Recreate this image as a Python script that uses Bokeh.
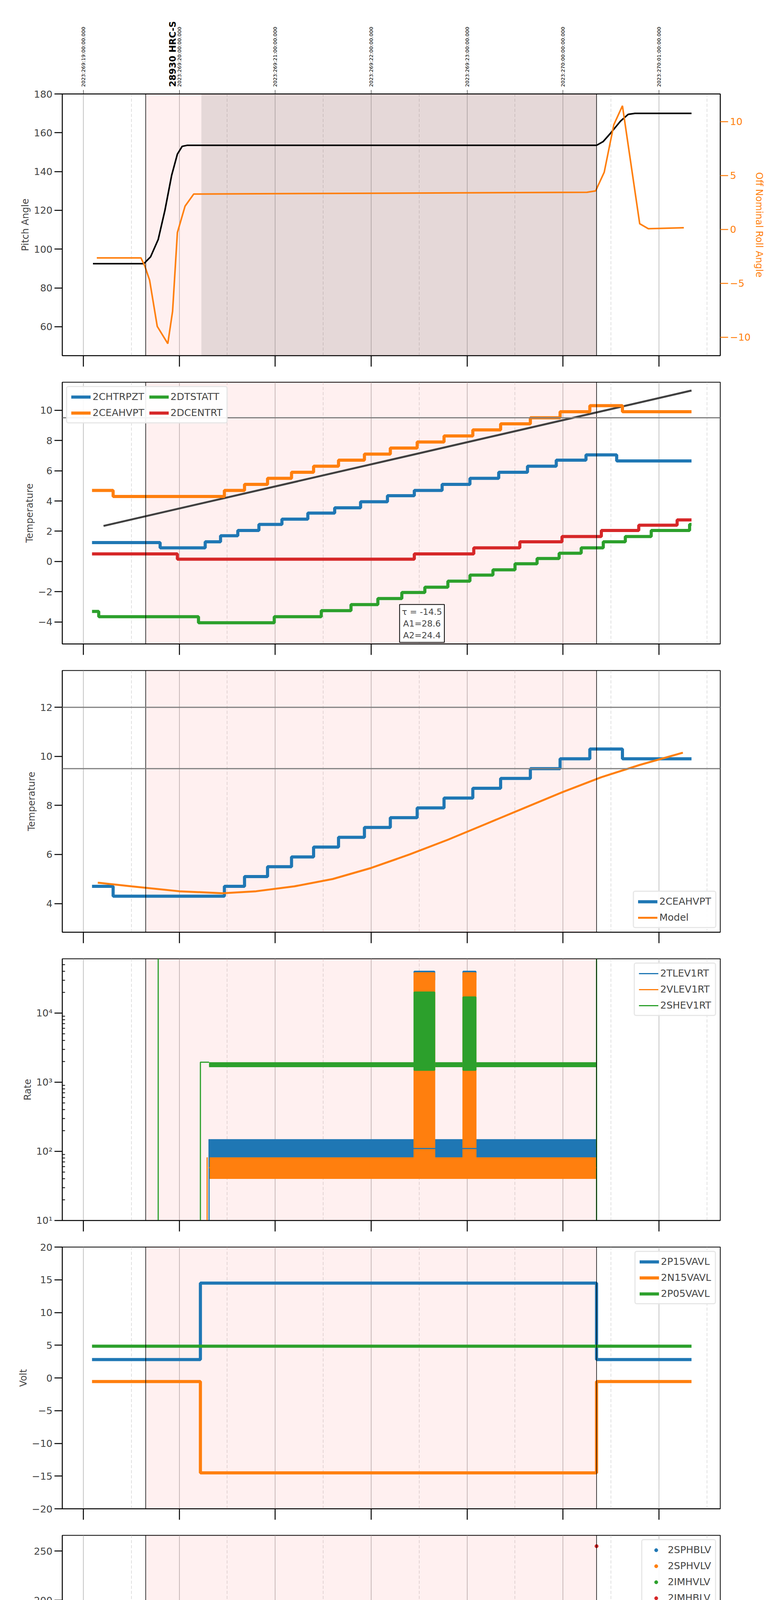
from math import pi
from bokeh.plotting import figure
from bokeh.models import (Range1d, LinearAxis, FixedTicker, BoxAnnotation, Span, Label,
                          NumeralTickFormatter)
from bokeh.core.properties import value
from bokeh.layouts import column
from bokeh.embed import file_html
from bokeh.resources import INLINE

BLUE, ORANGE, GREEN, RED = "#1f77b4", "#ff7f0e", "#2ca02c", "#d62728"
FONT = "DejaVu Sans"
TICK_SIZE = "25px"
LABEL_SIZE = "24px"

# ---- time axis (hours, 2023-09-26 local) ----
hours = [15, 16, 17, 18, 19, 20, 21]
halves = [14.5, 15.5, 16.5, 17.5, 18.5, 19.5, 20.5, 21.5]
utc_labels = ["2023:269:19:00:00.000", "2023:269:20:00:00.000", "2023:269:21:00:00.000",
              "2023:269:22:00:00.000", "2023:269:23:00:00.000", "2023:270:00:00:00.000",
              "2023:270:01:00:00.000"]
obs_start, obs_stop, dwell_start = 15.65, 20.35, 16.23
obsid_t = 15.93
obsid_label = "28930 HRC-S"
spike_t0 = [18.45, 18.96]
spike_t1 = [18.66, 19.09]

# ---- panel 1: pitch / roll ----
pitch_t = [15.10, 15.63, 15.70, 15.78, 15.85, 15.92, 15.98, 16.03, 16.08, 20.35, 20.42, 20.50, 20.60, 20.68, 20.75, 21.34]
pitch_v = [92.5, 92.5, 96, 105, 120, 138, 149, 153, 153.5, 153.5, 155.5, 160, 166, 169.5, 170, 170]
roll_t = [15.14, 15.60, 15.64, 15.69, 15.77, 15.88, 15.93, 15.98, 16.06, 16.15, 20.25, 20.34, 20.43, 20.53, 20.62, 20.80, 20.89, 21.26]
roll_v = [-2.65, -2.65, -3.4, -4.7, -9.0, -10.6, -7.6, -0.3, 2.15, 3.27, 3.44, 3.56, 5.3, 9.7, 11.46, 0.52, 0.06, 0.15]

# ---- panel 2: temperatures ----
ceahvpt_t = [15.09, 15.31, 16.47, 16.68, 16.92, 17.17, 17.40, 17.66, 17.93, 18.20, 18.48, 18.76, 19.06, 19.35, 19.66, 19.97, 20.28, 20.62, 21.34]
ceahvpt_v = [4.7, 4.3, 4.7, 5.1, 5.5, 5.9, 6.3, 6.7, 7.1, 7.5, 7.9, 8.3, 8.7, 9.1, 9.5, 9.9, 10.3, 9.9, 9.9]
chtrpzt_t = [15.09, 15.80, 16.27, 16.43, 16.61, 16.83, 17.07, 17.34, 17.62, 17.89, 18.17, 18.45, 18.74, 19.03, 19.33, 19.63, 19.93, 20.24, 20.56, 21.34]
chtrpzt_v = [1.25, 0.9, 1.3, 1.7, 2.05, 2.45, 2.8, 3.2, 3.55, 3.95, 4.35, 4.7, 5.1, 5.5, 5.9, 6.3, 6.7, 7.05, 6.65, 6.65]
dcentrt_t = [15.09, 15.98, 18.45, 19.07, 19.55, 19.99, 20.40, 20.79, 21.19, 21.34]
dcentrt_v = [0.5, 0.15, 0.5, 0.9, 1.3, 1.65, 2.05, 2.4, 2.75, 2.75]
dtstatt_t = [15.09, 15.16, 16.20, 16.99, 17.48, 17.79, 18.07, 18.32, 18.56, 18.80, 19.03, 19.27, 19.50, 19.73, 19.96, 20.19, 20.42, 20.65, 20.92, 21.32, 21.34]
dtstatt_v = [-3.3, -3.65, -4.05, -3.65, -3.25, -2.85, -2.45, -2.05, -1.7, -1.3, -0.9, -0.55, -0.15, 0.2, 0.55, 0.9, 1.3, 1.65, 2.05, 2.45, 2.45]
fit_t = [15.21, 21.34]
fit_v = [2.35, 11.3]
fit_text = "τ = -14.5\nA1=28.6\nA2=24.4"

# ---- panel 3: model ----
model_t = [15.15, 15.5, 16.0, 16.45, 16.8, 17.2, 17.6, 18.0, 18.4, 18.8, 19.2, 19.6, 20.0, 20.4, 20.8, 21.25]
model_v = [4.85, 4.7, 4.5, 4.42, 4.5, 4.7, 5.0, 5.45, 6.0, 6.6, 7.25, 7.9, 8.55, 9.15, 9.65, 10.15]

# ---- panel 4: rates (envelopes of noisy data) ----
rate_t = [16.31, 20.35]
tlev_lo, tlev_hi = [80, 80], [150, 150]
vlev_lo, vlev_hi = [40, 40], [82, 82]
shev_lo, shev_hi = [1650, 1650], [1950, 1950]
tlev_spike_lo, tlev_spike_hi = [30000, 30000], [40000, 40000]
vlev_spike_lo, vlev_spike_hi = [60, 60], [38000, 38000]
shev_spike_lo, shev_spike_hi = [1500, 1500], [20000, 17000]
shev_jump_t = [15.78, 20.35]

# ---- panel 5: voltages ----
volt_t = [15.09, 16.22, 20.35, 21.34]
p15_v = [2.8, 14.5, 2.8, 2.8]
n15_v = [-0.55, -14.5, -0.55, -0.55]
p05_v = [4.85, 4.85, 4.85, 4.85]

# ---- panel 6: HV monitor ----
sphblv_t = [16.24, 16.25, 16.255, 16.26, 16.27, 16.28, 16.29, 16.30]
sphblv_v = [118, 105, 102, 97, 92, 87, 82, 78]
sphvlv_t = [16.24, 16.245, 16.25, 16.255, 16.265, 16.27, 16.28, 16.29, 16.30, 18.48, 18.52, 18.55, 18.98, 19.07]
sphvlv_v = [127, 125, 98, 96, 91, 86, 80, 75, 71, 127, 127, 127, 127, 127]
imhvlv_t = [14.0]   # off-scale, only in the legend
imhvlv_v = [0]
imhblv_t = [20.35]
imhblv_v = [255]
hv_band_t = [16.30, 20.35]
sphblv_band = [77.5, 77.5]
sphvlv_band = [70.5, 70.5]

# ---- panel 7: detector temps ----
sphvatm_t = [16.22, 16.37, 16.46, 16.54, 16.61, 16.69, 16.78, 16.87, 16.97, 17.08, 17.21, 17.34, 17.48, 17.64, 17.80, 17.99, 18.19, 18.39, 18.61, 18.85, 19.08, 19.33, 19.60, 19.85, 20.12, 20.33]
sphvatm_v = [13.85, 14.15, 14.45, 14.75, 15.0, 15.3, 15.6, 15.85, 16.1, 16.4, 16.7, 17.0, 17.25, 17.55, 17.85, 18.15, 18.4, 18.7, 18.95, 19.25, 19.55, 19.9, 20.2, 20.5, 20.8, 20.8]
imhvatm_t = [16.22, 16.22, 16.88, 17.15, 17.39, 17.62, 17.86, 18.09, 18.33, 18.57, 18.82, 19.06, 19.29, 19.55, 19.81, 20.07, 20.32, 20.35]
imhvatm_v = [0, 13.35, 13.6, 13.9, 14.2, 14.45, 14.75, 15.0, 15.3, 15.55, 15.85, 16.1, 16.4, 16.65, 16.95, 17.25, 21.1, 0]
spinatm_t = [16.23, 17.28, 18.09, 18.76, 19.34, 19.91, 20.32]
spinatm_v = [2.35, 2.8, 3.25, 3.7, 4.15, 4.6, 4.6]
iminatm_t = [16.23, 18.52, 19.59, 20.32, 20.33]
iminatm_v = [1.5, 1.95, 2.35, 2.8, 2.8]
det_spike = {"2SPINATM": ([0, 0], [3.3, 3.7]), "2SPHVATM": ([10.8, 11.3], [18.8, 19.3]),
             "2IMINATM": ([1.5, 1.8], [3.35, 3.8]), "2IMHVATM": ([15.3, 15.9], [18.8, 19.3])}

# ---- panel 8: FEA temps ----
fhtrmzt_pre_t = [15.09, 15.37, 15.37]
fhtrmzt_pre_v = [-7.2, -7.2, -8]
fhtrmzt_t = [16.32, 16.50, 16.63, 16.74, 16.85, 16.97, 17.09, 17.20, 17.33, 17.46, 17.58, 17.71, 17.84, 17.98, 18.11, 18.25, 18.39, 18.55, 18.67, 18.83, 18.98, 19.11, 19.29, 19.45, 19.62, 19.80, 19.96, 20.14, 20.31, 20.80, 21.16, 21.34]
fhtrmzt_v = [-7.2, -6.8, -6.4, -6.0, -5.6, -5.2, -4.8, -4.4, -4.0, -3.6, -3.25, -2.9, -2.5, -2.1, -1.75, -1.35, -1.0, -0.62, -0.25, 0.13, 0.53, 0.9, 1.28, 1.66, 2.03, 2.41, 2.79, 3.16, 3.55, 3.16, 2.79, 2.79]
fradpyt_t = [16.83, 16.83, 16.96, 17.07, 17.20, 17.34, 17.48, 17.61, 17.74, 17.88, 18.02, 18.17, 18.32, 18.66, 18.79, 18.96, 19.11, 19.29, 19.46, 19.64, 19.81, 20.00, 20.18, 20.69, 21.02, 21.34]
fradpyt_v = [-8, -7.2, -6.8, -6.4, -6.0, -5.6, -5.2, -4.8, -4.4, -4.0, -3.6, -3.25, -2.9, -2.1, -1.75, -1.35, -1.0, -0.6, -0.25, 0.15, 0.55, 0.9, 1.3, 0.9, 0.5, 0.5]
fepratm_t = [16.23, 16.27, 16.36, 16.47, 16.53, 16.58, 16.69, 16.80, 16.92, 17.01, 17.10, 17.19, 17.29, 17.40, 17.49, 17.60, 17.70, 17.81, 17.92, 18.01, 18.12, 18.24, 18.34, 18.66, 18.85, 19.14, 19.27, 19.43, 19.59, 19.80, 20.01, 20.25]
fepratm_v = [-6.2, -5.8, -5.4, -5.05, -4.65, -4.3, -3.95, -3.6, -3.25, -2.9, -2.6, -2.25, -1.9, -1.55, -1.25, -0.9, -0.6, -0.25, 0.1, 0.45, 0.8, 1.15, 1.5, 2.38, 2.81, 3.25, 3.7, 4.1, 4.6, 5.05, 5.45, 5.85]
fe00atm_t = [16.22, 16.22, 16.32, 16.43, 16.49, 16.54, 16.65, 16.76, 16.88, 16.97, 17.06, 17.15, 17.25, 17.36, 17.45, 17.56, 17.66, 17.77, 17.88, 17.97, 18.08, 18.20, 18.30, 18.44, 18.66, 18.76, 18.89, 19.02, 19.14, 19.27, 19.39, 19.53, 19.66, 19.79, 19.92, 20.07, 20.35]
fe00atm_v = [-8, -5.27, -4.87, -4.52, -4.17, -3.82, -3.47, -3.12, -2.77, -2.47, -2.12, -1.77, -1.42, -1.12, -0.77, -0.47, 0.18, 0.48, 0.81, 1.13, 1.41, 1.73, 2.03, 2.33, 2.63, 2.93, 3.25, 3.55, 3.85, 4.15, 4.43, 4.73, 5.03, 5.31, 5.58, 5.85, 5.85]
fea_spike = {"2FEPRATM": ([-4.7, -4.7], [2.0, 3.3]), "2FE00ATM": ([2.0, 3.2], [6, 6])}

X_RANGE = Range1d(14.78, 21.64)


def blank_labels(axis, ticks):
    axis.major_label_overrides = {t: "" for t in ticks}


def make_fig(height, top, bottom, ylabel, y_range, yticks, y_type="linear"):
    p = figure(width=1984, height=height, x_range=X_RANGE, y_range=y_range, y_axis_type=y_type,
               output_backend="svg", toolbar_location=None,
               min_border_left=159, min_border_right=140, min_border_top=top, min_border_bottom=bottom)
    p.outline_line_color = "black"
    p.outline_line_width = 2
    p.ygrid.grid_line_color = None
    p.xgrid.ticker = FixedTicker(ticks=hours, minor_ticks=halves)
    p.xgrid.grid_line_color = "#b0b0b0"
    p.xgrid.grid_line_width = 1.5
    p.xgrid.minor_grid_line_color = "#c4c4c4"
    p.xgrid.minor_grid_line_dash = "8 5"
    p.xaxis.ticker = FixedTicker(ticks=hours)
    blank_labels(p.xaxis[0], hours)
    p.xaxis.major_label_standoff = 0
    p.xaxis.major_tick_out = 28
    p.xaxis.major_tick_in = 0
    p.xaxis.major_tick_line_width = 2.5
    p.xaxis.minor_tick_line_color = None
    p.xaxis.axis_line_width = 2
    p.yaxis.axis_label = ylabel
    p.yaxis.axis_label_text_font = FONT
    p.yaxis.axis_label_text_font_style = "normal"
    p.yaxis.axis_label_text_font_size = LABEL_SIZE
    p.yaxis.major_label_text_font = FONT
    p.yaxis.major_label_text_font_size = TICK_SIZE
    p.yaxis.major_tick_out = 20
    p.yaxis.major_tick_in = 0
    p.yaxis.major_tick_line_width = 2.5
    p.yaxis.axis_line_width = 2
    if y_type == "linear":
        p.yaxis.ticker = FixedTicker(ticks=yticks)
        p.yaxis.minor_tick_line_color = None
    else:
        p.yaxis.minor_tick_out = 0
        p.yaxis.minor_tick_in = 7
        p.yaxis.minor_tick_line_width = 2
    p.add_layout(BoxAnnotation(left=obs_start, right=obs_stop, fill_color="red", fill_alpha=0.06,
                               line_color=None, level="underlay"))
    for t in (obs_start, obs_stop):
        p.add_layout(Span(location=t, dimension="height", line_color="black", line_width=1.5))
    return p


def style_legend(p, location, ncols=1):
    lg = p.legend[0]
    lg.location = location
    lg.ncols = ncols
    lg.label_text_font = FONT
    lg.label_text_font_size = TICK_SIZE
    lg.glyph_width = 50
    lg.glyph_height = 22
    lg.spacing = 12
    lg.padding = 10
    lg.border_line_color = "#d0d0d0"
    lg.border_line_width = 3
    lg.border_radius = 6
    lg.background_fill_alpha = 0.9


def spikes(p, lo, hi, color):
    p.quad(left=spike_t0, right=spike_t1, bottom=lo, top=hi, color=color, line_color=color, line_width=4)


# Header strip with UTC times and the obsid
p0 = figure(width=1984, height=228, x_range=X_RANGE, y_range=Range1d(0, 1),
            output_backend="svg", toolbar_location=None, min_border_left=159, min_border_right=140,
            min_border_top=0, min_border_bottom=0)
p0.axis.visible = False
p0.grid.visible = False
p0.outline_line_color = None
p0.text(x=hours, y=[0.0] * len(hours), text=utc_labels, angle=pi / 2, text_align="left",
        text_baseline="middle", text_font=value(FONT), text_font_size="13px", y_offset=-6)
p0.text(x=[obsid_t], y=[0.0], text=[obsid_label], angle=pi / 2, text_align="left",
        text_baseline="middle", text_font=value(FONT), text_font_style="bold",
        text_font_size="23px", y_offset=-6)

# Panel 1
p1 = make_fig(717, 12, 35, "Pitch Angle", Range1d(45.1, 180), [60, 80, 100, 120, 140, 160, 180])
p1.add_layout(BoxAnnotation(left=dwell_start, right=obs_stop, fill_color="#6e6e6e", fill_alpha=0.18,
                            line_color=None, level="underlay"))
p1.extra_y_ranges = {"roll": Range1d(-11.72, 12.56)}
ax_r = LinearAxis(y_range_name="roll", axis_label="Off Nominal Roll Angle",
                  ticker=FixedTicker(ticks=[-10, -5, 0, 5, 10]))
ax_r.axis_label_text_color = ORANGE
ax_r.axis_label_text_font = FONT
ax_r.axis_label_text_font_style = "normal"
ax_r.axis_label_text_font_size = LABEL_SIZE
ax_r.major_label_text_color = ORANGE
ax_r.major_label_text_font = FONT
ax_r.major_label_text_font_size = TICK_SIZE
ax_r.major_tick_line_color = ORANGE
ax_r.major_tick_out = 20
ax_r.major_tick_in = 0
ax_r.major_tick_line_width = 2.5
ax_r.minor_tick_line_color = None
ax_r.axis_line_width = 2
p1.add_layout(ax_r, "right")
ax_top = LinearAxis(ticker=FixedTicker(ticks=hours))
blank_labels(ax_top, hours)
ax_top.major_label_standoff = 0
ax_top.major_tick_out = 10
ax_top.major_tick_in = 0
ax_top.minor_tick_line_color = None
ax_top.axis_line_width = 2
p1.add_layout(ax_top, "above")
p1.line(pitch_t, pitch_v, color="black", line_width=4)
p1.line(roll_t, roll_v, color=ORANGE, line_width=4, y_range_name="roll")

# Panel 2
p2 = make_fig(738, 33, 35, "Temperature", Range1d(-5.45, 11.85), [-4, -2, 0, 2, 4, 6, 8, 10])
p2.add_layout(Span(location=9.5, dimension="width", line_color="#808080", line_width=3))
p2.line(fit_t, fit_v, color="#404040", line_width=5)
p2.step(chtrpzt_t, chtrpzt_v, mode="after", color=BLUE, line_width=8, legend_label="2CHTRPZT")
p2.step(ceahvpt_t, ceahvpt_v, mode="after", color=ORANGE, line_width=8, legend_label="2CEAHVPT")
p2.step(dtstatt_t, dtstatt_v, mode="after", color=GREEN, line_width=8, legend_label="2DTSTATT")
p2.step(dcentrt_t, dcentrt_v, mode="after", color=RED, line_width=8, legend_label="2DCENTRT")
style_legend(p2, "top_left", ncols=2)
p2.add_layout(Label(x=18.53, y=-5.45, y_offset=4, text=fit_text, text_align="center",
                    text_baseline="bottom", text_font=FONT, text_font_size="22px",
                    background_fill_color="white", border_line_color="black", border_line_width=2,
                    padding=6))

# Panel 3
p3 = make_fig(738, 33, 35, "Temperature", Range1d(2.83, 13.5), [4, 6, 8, 10, 12])
for lvl in (9.5, 12):
    p3.add_layout(Span(location=lvl, dimension="width", line_color="#808080", line_width=3))
p3.step(ceahvpt_t, ceahvpt_v, mode="after", color=BLUE, line_width=8, legend_label="2CEAHVPT")
p3.line(model_t, model_v, color=ORANGE, line_width=5, legend_label="Model")
style_legend(p3, "bottom_right")

# Panel 4
p4 = make_fig(738, 33, 35, "Rate", Range1d(10, 61000), None, y_type="log")
p4.yaxis.ticker = FixedTicker(ticks=[10, 100, 1000, 10000],
                              minor_ticks=[20, 30, 40, 50, 60, 70, 80, 90, 200, 300, 400, 500, 600, 700, 800, 900,
                                           2000, 3000, 4000, 5000, 6000, 7000, 8000, 9000, 20000, 30000, 40000, 50000])
p4.yaxis.major_label_overrides = {10: "10¹", 100: "10²", 1000: "10³", 10000: "10⁴"}
p4.varea(rate_t, tlev_lo, tlev_hi, color=BLUE)
p4.varea(rate_t, vlev_lo, vlev_hi, color=ORANGE)
p4.varea(rate_t, shev_lo, shev_hi, color=GREEN)
spikes(p4, tlev_spike_lo, tlev_spike_hi, BLUE)
spikes(p4, vlev_spike_lo, vlev_spike_hi, ORANGE)
spikes(p4, shev_spike_lo, shev_spike_hi, GREEN)
p4.line([rate_t[0], rate_t[0]], [10, tlev_hi[0]], color=BLUE, line_width=3)
p4.line([rate_t[0] - 0.02, rate_t[0] - 0.02], [10, vlev_hi[0]], color=ORANGE, line_width=3)
p4.line([16.22, 16.22, rate_t[0]], [10, shev_hi[0], shev_hi[0]], color=GREEN, line_width=3)
for t in shev_jump_t:
    p4.line([t, t], [10, 61000], color=GREEN, line_width=3)
p4.line(rate_t, [110, 110], color=BLUE, line_width=3, legend_label="2TLEV1RT")
p4.line(rate_t, [58, 58], color=ORANGE, line_width=3, legend_label="2VLEV1RT")
p4.line(rate_t, [1780, 1780], color=GREEN, line_width=3, legend_label="2SHEV1RT")
style_legend(p4, "top_right")

# Panel 5
p5 = make_fig(738, 33, 35, "Volt", Range1d(-20, 20), [-20, -15, -10, -5, 0, 5, 10, 15, 20])
p5.step(volt_t, p15_v, mode="after", color=BLUE, line_width=8, legend_label="2P15VAVL")
p5.step(volt_t, n15_v, mode="after", color=ORANGE, line_width=8, legend_label="2N15VAVL")
p5.step(volt_t, p05_v, mode="after", color=GREEN, line_width=8, legend_label="2P05VAVL")
style_legend(p5, "top_right")

# Panel 6
p6 = make_fig(738, 33, 35, "HV Monitor", Range1d(0, 266), [0, 50, 100, 150, 200, 250])
p6.line(hv_band_t, sphblv_band, color=BLUE, line_width=13)
p6.line(hv_band_t, sphvlv_band, color=ORANGE, line_width=11)
p6.scatter(sphblv_t, sphblv_v, size=9, color=BLUE, legend_label="2SPHBLV")
p6.scatter(sphvlv_t, sphvlv_v, size=9, color=ORANGE, legend_label="2SPHVLV")
p6.scatter(imhvlv_t, imhvlv_v, size=9, color=GREEN, legend_label="2IMHVLV")
p6.scatter(imhblv_t, imhblv_v, size=9, color=RED, legend_label="2IMHBLV")
style_legend(p6, "top_right")

# Panel 7
p7 = make_fig(738, 33, 35, "Detector Temp", Range1d(0, 21.07), [0, 2.5, 5, 7.5, 10, 12.5, 15, 17.5, 20])
p7.yaxis.formatter = NumeralTickFormatter(format="0.0")
p7.step(spinatm_t, spinatm_v, mode="after", color=BLUE, line_width=8, legend_label="2SPINATM")
spikes(p7, *det_spike["2SPINATM"], BLUE)
p7.step(sphvatm_t, sphvatm_v, mode="after", color=ORANGE, line_width=8, legend_label="2SPHVATM")
spikes(p7, *det_spike["2SPHVATM"], ORANGE)
p7.line([18.53, 18.53], [0, 11], color=ORANGE, line_width=3)
p7.step(iminatm_t, iminatm_v, mode="after", color=GREEN, line_width=8, legend_label="2IMINATM")
spikes(p7, *det_spike["2IMINATM"], GREEN)
p7.step(imhvatm_t, imhvatm_v, mode="after", color=RED, line_width=7, legend_label="2IMHVATM")
spikes(p7, *det_spike["2IMHVATM"], RED)
p7.line([18.53, 18.53], [0, 15.3], color=RED, line_width=3)
style_legend(p7, "top_right")

# Panel 8
p8 = make_fig(823, 33, 120, "FEA Temp", Range1d(-7.5, 5.63), [-6, -4, -2, 0, 2, 4])
p8.line(fhtrmzt_pre_t, fhtrmzt_pre_v, color=BLUE, line_width=8)
p8.step(fhtrmzt_t, fhtrmzt_v, mode="after", color=BLUE, line_width=8, legend_label="2FHTRMZT")
p8.step(fradpyt_t, fradpyt_v, mode="after", color=ORANGE, line_width=8, legend_label="2FRADPYT")
p8.step(fepratm_t, fepratm_v, mode="after", color=GREEN, line_width=8, legend_label="2FEPRATM")
spikes(p8, *fea_spike["2FEPRATM"], GREEN)
p8.step(fe00atm_t, fe00atm_v, mode="after", color=RED, line_width=8, legend_label="2FE00ATM")
spikes(p8, *fea_spike["2FE00ATM"], RED)
for t in (18.53, obs_stop):
    p8.line([t, t], [-7.5, 5.63], color=RED, line_width=6)
style_legend(p8, "bottom_right")
p8.xaxis.ticker = FixedTicker(ticks=hours + halves)
p8.xaxis.major_label_overrides = {**{h: " " for h in hours}, **{h: "30" for h in halves}}
p8.xaxis.major_label_text_font = FONT
p8.xaxis.major_label_text_font_size = "15px"
p8.xaxis.major_label_standoff = 6
p8.xaxis.major_tick_out = 14
ax_h = LinearAxis(ticker=FixedTicker(ticks=hours),
                  major_label_overrides={h: f"{h}h" for h in hours},
                  axis_label="2023-09-26 (269)")
ax_h.major_label_text_font = FONT
ax_h.major_label_text_font_size = TICK_SIZE
ax_h.major_tick_line_color = None
ax_h.minor_tick_line_color = None
ax_h.axis_line_color = None
ax_h.major_label_standoff = 0
ax_h.axis_label_text_font = FONT
ax_h.axis_label_text_font_style = "normal"
ax_h.axis_label_text_font_size = "27px"
ax_h.axis_label_standoff = 8
p8.add_layout(ax_h, "below")

layout = column(p0, p1, p2, p3, p4, p5, p6, p7, p8, spacing=0)
open("out.html", "w").write(file_html(layout, INLINE))
